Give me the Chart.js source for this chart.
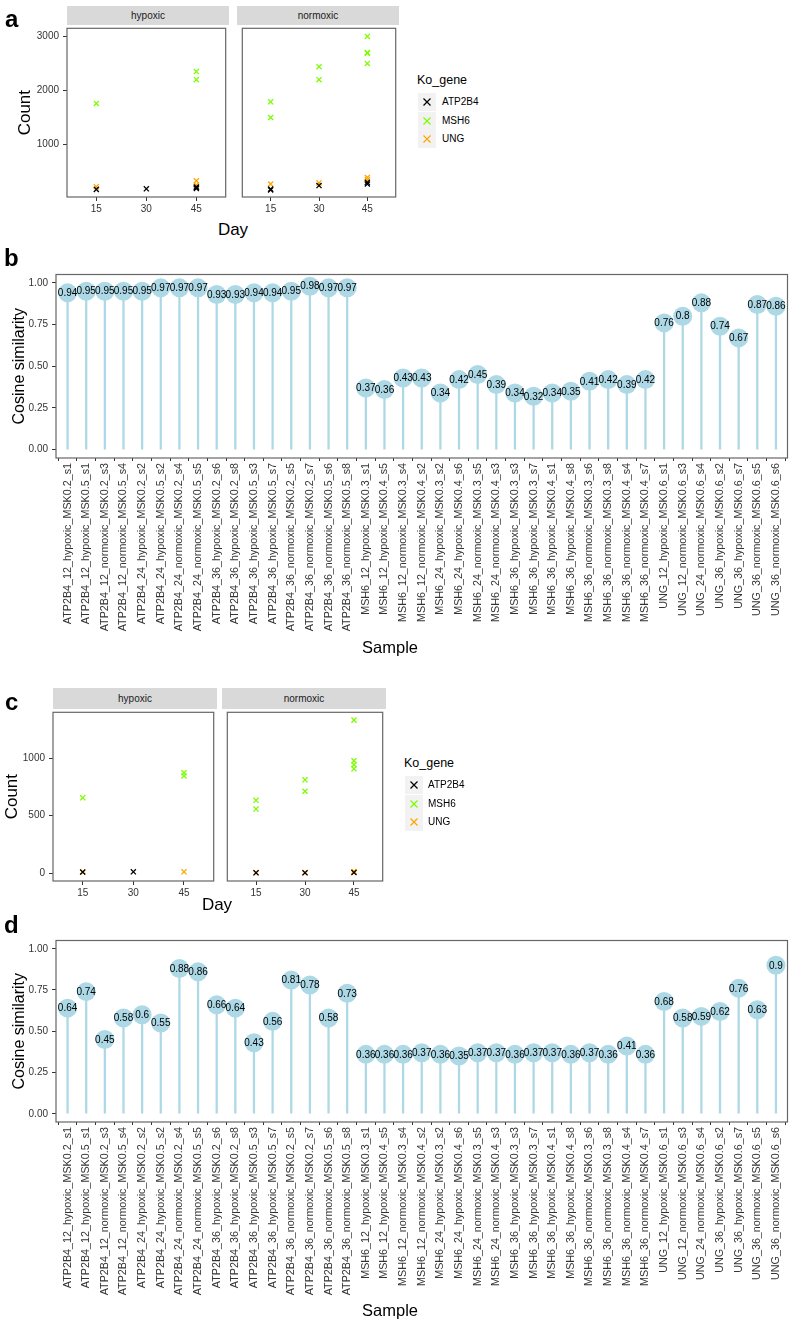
<!DOCTYPE html>
<html>
<head>
<meta charset="utf-8">
<script src="https://cdn.jsdelivr.net/npm/chart.js@4.4.1/dist/chart.umd.min.js"></script>
<style>
  body { margin: 0; background: #fff; font-family: "Liberation Sans", Arial, Helvetica, sans-serif; }
  #fig { position: relative; width: 800px; height: 1325px; overflow: hidden; }
  canvas { position: absolute; }
  .ctr { position: absolute; white-space: nowrap; line-height: 1; transform: translate(-50%, -50%); color: #000; }
  .lft { position: absolute; white-space: nowrap; line-height: 1; transform: translateY(-50%); color: #000; }
  .letter { position: absolute; font-weight: bold; font-size: 24px; line-height: 24px; color: #000; }
  .strip { position: absolute; background: #D9D9D9; color: #1A1A1A; font-size: 10px; display: flex; align-items: center; justify-content: center; }
  .key { position: absolute; width: 18px; height: 18px; background: #F2F2F2; }
</style>
</head>
<body>
<div id="fig"></div>
<script>
// genes and their colours
const geneNames = ['ATP2B4', 'MSH6', 'UNG'];
const geneColors = ['#000000', '#7CFC00', '#FFA500'];
const dayTicks = [15, 30, 45];

// panel a: [day, count]
const aHypoxicATP2B4 = [[15, 170], [30, 180], [45, 185], [45, 200], [45, 215]];
const aHypoxicMSH6 = [[15, 1760], [45, 2350], [45, 2200]];
const aHypoxicUNG = [[15, 220], [45, 330], [45, 250]];
const aNormoxicATP2B4 = [[15, 160], [15, 175], [30, 240], [45, 270], [45, 300]];
const aNormoxicMSH6 = [[15, 1790], [15, 1500], [30, 2440], [30, 2200], [45, 3000], [45, 2700], [45, 2690], [45, 2500]];
const aNormoxicUNG = [[15, 270], [30, 290], [45, 390], [45, 350]];
const aCountTicks = [1000, 2000, 3000];

// panel c: [day, count]
const cHypoxicATP2B4 = [[15, 10], [30, 12]];
const cHypoxicMSH6 = [[15, 655], [45, 873], [45, 845]];
const cHypoxicUNG = [[15, 8], [45, 12]];
const cNormoxicATP2B4 = [[15, 3], [30, 3], [45, 5]];
const cNormoxicMSH6 = [[15, 633], [15, 557], [30, 811], [30, 712], [45, 1330], [45, 977], [45, 943], [45, 907]];
const cNormoxicUNG = [[15, 5], [30, 5], [45, 15], [45, 10]];
const cCountTicks = [0, 500, 1000];

// panels b and d
const sampleLabels = [
  'ATP2B4_12_hypoxic_MSK0.2_s1', 'ATP2B4_12_hypoxic_MSK0.5_s1', 'ATP2B4_12_normoxic_MSK0.2_s3', 'ATP2B4_12_normoxic_MSK0.5_s4',
  'ATP2B4_24_hypoxic_MSK0.2_s2', 'ATP2B4_24_hypoxic_MSK0.5_s2', 'ATP2B4_24_normoxic_MSK0.2_s4', 'ATP2B4_24_normoxic_MSK0.5_s5',
  'ATP2B4_36_hypoxic_MSK0.2_s6', 'ATP2B4_36_hypoxic_MSK0.2_s8', 'ATP2B4_36_hypoxic_MSK0.5_s3', 'ATP2B4_36_hypoxic_MSK0.5_s7',
  'ATP2B4_36_normoxic_MSK0.2_s5', 'ATP2B4_36_normoxic_MSK0.2_s7', 'ATP2B4_36_normoxic_MSK0.5_s6', 'ATP2B4_36_normoxic_MSK0.5_s8',
  'MSH6_12_hypoxic_MSK0.3_s1', 'MSH6_12_hypoxic_MSK0.4_s5', 'MSH6_12_normoxic_MSK0.3_s4', 'MSH6_12_normoxic_MSK0.4_s2',
  'MSH6_24_hypoxic_MSK0.3_s2', 'MSH6_24_hypoxic_MSK0.4_s6', 'MSH6_24_normoxic_MSK0.3_s5', 'MSH6_24_normoxic_MSK0.4_s3',
  'MSH6_36_hypoxic_MSK0.3_s3', 'MSH6_36_hypoxic_MSK0.3_s7', 'MSH6_36_hypoxic_MSK0.4_s1', 'MSH6_36_hypoxic_MSK0.4_s8',
  'MSH6_36_normoxic_MSK0.3_s6', 'MSH6_36_normoxic_MSK0.3_s8', 'MSH6_36_normoxic_MSK0.4_s4', 'MSH6_36_normoxic_MSK0.4_s7',
  'UNG_12_hypoxic_MSK0.6_s1', 'UNG_12_normoxic_MSK0.6_s3', 'UNG_24_normoxic_MSK0.6_s4', 'UNG_36_hypoxic_MSK0.6_s2',
  'UNG_36_hypoxic_MSK0.6_s7', 'UNG_36_normoxic_MSK0.6_s5', 'UNG_36_normoxic_MSK0.6_s6'
];
const similarityB = [
  0.94, 0.95, 0.95, 0.95, 0.95, 0.97, 0.97, 0.97, 0.93, 0.93, 0.94, 0.94, 0.95, 0.98, 0.97, 0.97,
  0.37, 0.36, 0.43, 0.43, 0.34, 0.42, 0.45, 0.39, 0.34, 0.32, 0.34, 0.35, 0.41, 0.42, 0.39, 0.42,
  0.76, 0.8, 0.88, 0.74, 0.67, 0.87, 0.86
];
const similarityD = [
  0.64, 0.74, 0.45, 0.58, 0.6, 0.55, 0.88, 0.86, 0.66, 0.64, 0.43, 0.56, 0.81, 0.78, 0.58, 0.73,
  0.36, 0.36, 0.36, 0.37, 0.36, 0.35, 0.37, 0.37, 0.36, 0.37, 0.37, 0.36, 0.37, 0.36, 0.41, 0.36,
  0.68, 0.58, 0.59, 0.62, 0.76, 0.63, 0.9
];
const similarityTicks = [0, 0.25, 0.5, 0.75, 1];

const FONT = '"Liberation Sans", Arial, Helvetica, sans-serif';
const TICK_COLOR = '#333';
const fig = document.getElementById('fig');
Chart.defaults.font.family = FONT;

// canvas whose chart area lands on (x0,y0)-(x1,y1) in page pixels
function place(x0, y0, x1, y1, yw, xh) {
  const c = document.createElement('canvas');
  const w = x1 - x0 + yw + 2, h = y1 - y0 + 2 + xh;
  c.width = w; c.height = h;
  c.style.left = (x0 - yw) + 'px';
  c.style.top = (y0 - 2) + 'px';
  c.style.width = w + 'px';
  c.style.height = h + 'px';
  fig.appendChild(c);
  return c;
}

function fixY(w) { return s => { s.width = w; s.paddingTop = 0; s.paddingBottom = 0; }; }
function fixX(h) { return s => { s.height = h; s.paddingLeft = 0; s.paddingRight = 0; }; }

const framePlugin = {
  id: 'frame',
  afterDatasetsDraw(chart) {
    const { ctx, chartArea: a } = chart;
    ctx.save();
    ctx.strokeStyle = '#666';
    ctx.lineWidth = 1.2;
    ctx.strokeRect(a.left, a.top, a.right - a.left, a.bottom - a.top);
    ctx.restore();
  }
};

const valueLabels = {
  id: 'valueLabels',
  afterDatasetsDraw(chart) {
    const { ctx } = chart;
    const meta = chart.getDatasetMeta(0);
    const ds = chart.data.datasets[0];
    ctx.save();
    ctx.font = '10px ' + FONT;
    ctx.fillStyle = '#000';
    ctx.textAlign = 'center';
    ctx.textBaseline = 'middle';
    meta.data.forEach((el, i) => ctx.fillText(String(ds.data[i].y), el.x, el.y + 0.5));
    ctx.restore();
  }
};

function tickStyle(size) {
  return { font: { size: size }, color: TICK_COLOR, autoSkip: false, maxRotation: 0 };
}

function facetChart(canvas, series, yMin, yMax, yTicks, showY, yTitlePad) {
  new Chart(canvas, {
    type: 'scatter',
    data: {
      datasets: series.map((pts, i) => ({
        label: geneNames[i],
        data: pts.map(p => ({ x: p[0], y: p[1] })),
        pointStyle: 'crossRot',
        pointRadius: 3.6,
        borderColor: geneColors[i],
        backgroundColor: geneColors[i],
        borderWidth: 1.3
      }))
    },
    options: {
      responsive: false,
      animation: false,
      events: [],
      layout: { padding: { top: 2, right: 2, left: 0, bottom: 0 } },
      plugins: { legend: { display: false }, tooltip: { enabled: false } },
      scales: {
        x: {
          type: 'linear', min: 6.2, max: 53.8,
          afterBuildTicks: s => { s.ticks = dayTicks.map(v => ({ value: v })); },
          ticks: Object.assign(tickStyle(10), { padding: 2, callback: v => String(v) }),
          grid: { drawOnChartArea: false, tickLength: 4, color: TICK_COLOR },
          border: { display: false },
          afterFit: fixX(20)
        },
        y: {
          type: 'linear', min: yMin, max: yMax, display: showY,
          afterBuildTicks: s => { s.ticks = yTicks.map(v => ({ value: v })); },
          ticks: Object.assign(tickStyle(10), { padding: 4, callback: v => String(v) }),
          grid: { drawOnChartArea: false, tickLength: 4, color: TICK_COLOR },
          border: { display: false },
          title: { display: true, text: 'Count', color: '#000', font: { size: 17 }, padding: { top: yTitlePad, bottom: 0 } },
          afterFit: fixY(canvas.__yw || 0)
        }
      }
    },
    plugins: [framePlugin]
  });
}

function lollipopChart(canvas, values, yw) {
  const pts = values.map((v, i) => ({ x: i, y: v }));
  new Chart(canvas, {
    type: 'scatter',
    data: {
      datasets: [
        { type: 'scatter', data: pts, pointRadius: 9.5, backgroundColor: '#ADD8E6', borderWidth: 0, order: 1 },
        { type: 'bar', data: pts, backgroundColor: '#ADD8E6', barThickness: 1.6, order: 2 }
      ]
    },
    options: {
      responsive: false,
      animation: false,
      events: [],
      layout: { padding: { top: 2, right: 2, left: 0, bottom: 0 } },
      plugins: { legend: { display: false }, tooltip: { enabled: false } },
      scales: {
        x: {
          type: 'linear', min: -0.62, max: sampleLabels.length - 1 + 0.62, offset: false,
          afterBuildTicks: s => { s.ticks = sampleLabels.map((_, i) => ({ value: i })); },
          ticks: { font: { size: 10.75 }, color: TICK_COLOR, autoSkip: false, minRotation: 90, maxRotation: 90, padding: 2,
                   callback: v => sampleLabels[v] },
          grid: { drawOnChartArea: false, tickLength: 3, color: TICK_COLOR },
          border: { display: false },
          afterFit: fixX(200)
        },
        y: {
          type: 'linear', min: -0.05, max: 1.05,
          afterBuildTicks: s => { s.ticks = similarityTicks.map(v => ({ value: v })); },
          ticks: Object.assign(tickStyle(10), { padding: 4, callback: v => v.toFixed(2) }),
          grid: { drawOnChartArea: false, tickLength: 4, color: TICK_COLOR },
          border: { display: false },
          title: { display: true, text: 'Cosine similarity', color: '#000', font: { size: 16 }, padding: { top: 10.4, bottom: 0 } },
          afterFit: fixY(yw)
        }
      }
    },
    plugins: [framePlugin, valueLabels]
  });
}

// html helpers for facet strips, titles, legends
function addDiv(cls, html, style) {
  const d = document.createElement('div');
  d.className = cls;
  d.innerHTML = html;
  Object.assign(d.style, style);
  fig.appendChild(d);
  return d;
}
function strip(text, x0, x1, y0, y1) {
  addDiv('strip', text, { left: x0 + 'px', top: y0 + 'px', width: (x1 - x0) + 'px', height: (y1 - y0) + 'px' });
}
function legend(x, yTitle, keyTop, labX) {
  addDiv('lft', 'Ko_gene', { left: x + 'px', top: yTitle + 'px', fontSize: '12.5px' });
  geneNames.forEach((g, i) => {
    const top = keyTop + i * 18.5;
    addDiv('key', '<svg width="18" height="18"><path d="M5.5 5.5L12.5 12.5M12.5 5.5L5.5 12.5" stroke="' + geneColors[i] +
      '" stroke-width="1.2" fill="none"/></svg>', { left: (x + 1) + 'px', top: top + 'px' });
    addDiv('lft', g, { left: labX + 'px', top: (top + 9) + 'px', fontSize: '10px' });
  });
}

// panel a
let cv = place(67, 25, 229, 197, 67, 20); cv.__yw = 67;
facetChart(cv, [aHypoxicATP2B4, aHypoxicMSH6, aHypoxicUNG], 29, 3150, aCountTicks, true, 15);
cv = place(237, 25, 399, 197, 0, 20);
facetChart(cv, [aNormoxicATP2B4, aNormoxicMSH6, aNormoxicUNG], 29, 3150, aCountTicks, false, 0);
strip('hypoxic', 67, 229, 6, 25);
strip('normoxic', 237, 399, 6, 25);
addDiv('ctr', 'Day', { left: '233px', top: '229px', fontSize: '17px' });
legend(417, 80, 93, 442);
addDiv('letter', 'a', { left: '5px', top: '7px' });

// panel b
lollipopChart(place(56, 267, 795, 458, 56, 200), similarityB, 56);
addDiv('ctr', 'Sample', { left: '390px', top: '647px', fontSize: '16.5px' });
addDiv('letter', 'b', { left: '4px', top: '246px' });

// panel c
cv = place(53, 709, 217, 881, 53, 20); cv.__yw = 53;
facetChart(cv, [cHypoxicATP2B4, cHypoxicMSH6, cHypoxicUNG], -68, 1398, cCountTicks, true, 1.8);
cv = place(222, 709, 386, 881, 0, 20);
facetChart(cv, [cNormoxicATP2B4, cNormoxicMSH6, cNormoxicUNG], -68, 1398, cCountTicks, false, 0);
strip('hypoxic', 53, 217, 688, 709);
strip('normoxic', 222, 386, 688, 709);
addDiv('ctr', 'Day', { left: '217px', top: '904px', fontSize: '17px' });
legend(404, 763, 776, 428);
addDiv('letter', 'c', { left: '5px', top: '690px' });

// panel d
lollipopChart(place(56, 933, 795, 1122, 56, 200), similarityD, 56);
addDiv('ctr', 'Sample', { left: '390px', top: '1310px', fontSize: '16.5px' });
addDiv('letter', 'd', { left: '4px', top: '913px' });
</script>
</body>
</html>
